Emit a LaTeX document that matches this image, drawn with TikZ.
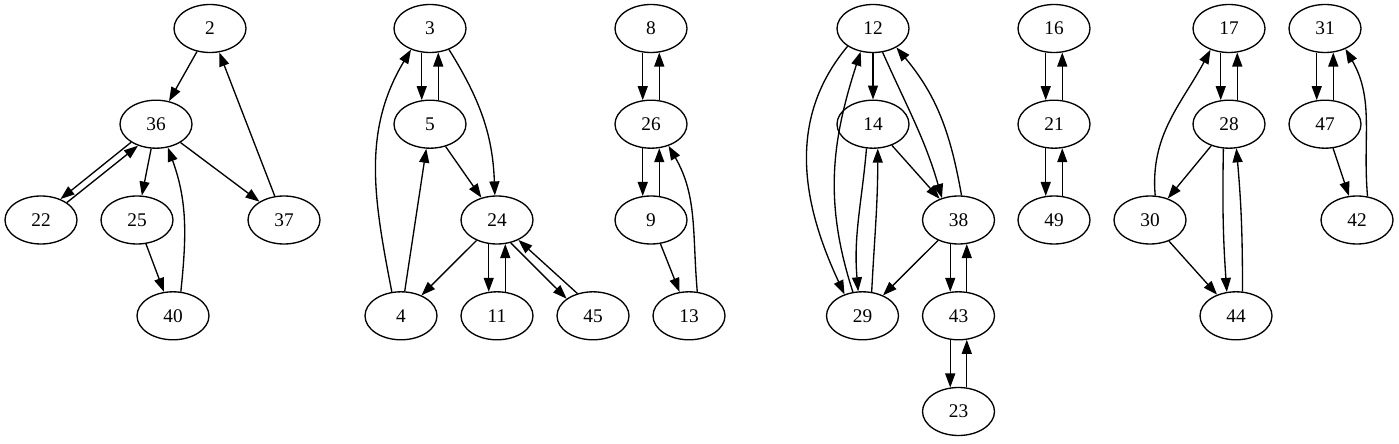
\documentclass[tikz,border=0pt]{standalone}
\usepackage{fontspec}
\setmainfont{Liberation Serif}
\usetikzlibrary{shapes.geometric,arrows.meta}
\begin{document}
\begin{tikzpicture}[x=0.75pt,y=0.75pt,
    vert/.style={ellipse,draw,line width=1pt,minimum width=54pt,minimum height=36pt,inner sep=0pt,font=\fontsize{14.5}{16}\selectfont},
    edge/.style={line width=1pt,-{Triangle[length=10.5pt,width=7.5pt]}}]
       \useasboundingbox (0,0) rectangle (1399,443);
       \node[vert] (n2) at (210,414.5) {2};
       \node[vert] (n36) at (156,318.8) {36};
       \node[vert] (n22) at (41,223) {22};
       \node[vert] (n25) at (137,223) {25};
       \node[vert] (n37) at (284,223) {37};
       \node[vert] (n40) at (173,127.2) {40};
       \node[vert] (n3) at (430,414.5) {3};
       \node[vert] (n5) at (430,318.8) {5};
       \node[vert] (n24) at (497,223) {24};
       \node[vert] (n4) at (401,127.2) {4};
       \node[vert] (n11) at (497,127.2) {11};
       \node[vert] (n45) at (593,127.2) {45};
       \node[vert] (n8) at (651,414.5) {8};
       \node[vert] (n26) at (651,318.8) {26};
       \node[vert] (n9) at (651,223) {9};
       \node[vert] (n13) at (689,127.2) {13};
       \node[vert] (n12) at (873,414.5) {12};
       \node[vert] (n14) at (873,318.8) {14};
       \node[vert] (n38) at (958.5,223) {38};
       \node[vert] (n29) at (862.5,127.2) {29};
       \node[vert] (n43) at (958.5,127.2) {43};
       \node[vert] (n23) at (958.5,31.5) {23};
       \node[vert] (n16) at (1054,414.5) {16};
       \node[vert] (n21) at (1054,318.8) {21};
       \node[vert] (n49) at (1054,223) {49};
       \node[vert] (n17) at (1229,414.5) {17};
       \node[vert] (n28) at (1229,318.8) {28};
       \node[vert] (n30) at (1150,223) {30};
       \node[vert] (n44) at (1236,127.2) {44};
       \node[vert] (n31) at (1325,414.5) {31};
       \node[vert] (n47) at (1325,318.8) {47};
       \node[vert] (n42) at (1357,223) {42};

       \draw[edge] (n2) -- (n36);
       \draw[edge] (n37) -- (n2);
       \draw[edge] (n36.216) -- (n22.47);
       \draw[edge] (n22.34) -- (n36.230);
       \draw[edge] (n36) -- (n25);
       \draw[edge] (n36) -- (n37);
       \draw[edge] (n25) -- (n40);
       \draw[edge] (n40.72) to[out=84,in=-70] (n36.-63);

       \draw[edge] (n3.251) -- (n5.109);
       \draw[edge] (n5.71) -- (n3.-71);
       \draw[edge] (n4.111) to[out=101,in=-121] (n3.-132);
       \draw[edge] (n4) -- (n5);
       \draw[edge] (n3.-48) to[out=-58,in=92] (n24.95);
       \draw[edge] (n5) -- (n24);
       \draw[edge] (n24) -- (n4);
       \draw[edge] (n24.251) -- (n11.109);
       \draw[edge] (n11.71) -- (n24.-71);
       \draw[edge] (n24.-59) -- (n45.147);
       \draw[edge] (n45.125) -- (n24.-43);

       \draw[edge] (n8.251) -- (n26.109);
       \draw[edge] (n26.71) -- (n8.-71);
       \draw[edge] (n26.251) -- (n9.109);
       \draw[edge] (n9.71) -- (n26.-71);
       \draw[edge] (n9) -- (n13);
       \draw[edge] (n13.71) to[out=95,in=-60] (n26.-51);

       \draw[edge] (n12) -- (n14);
       \draw[edge] (n12.-145) to[out=-130,in=115] (n29.130);
       \draw[edge] (n29.112) to[out=108,in=-108] (n12.-118);
       \draw[edge] (n14.-105) to[out=-95,in=95] (n29.100);
       \draw[edge] (n29.69) to[out=87,in=-90] (n14.-79);
       \draw[edge] (n14) -- (n38);
       \draw[edge] (n12.-68) to[out=-66,in=106] (n38.127);
       \draw[edge] (n38.83) to[out=100,in=-50] (n12.-39);
       \draw[edge] (n38) -- (n29);
       \draw[edge] (n38.251) -- (n43.109);
       \draw[edge] (n43.71) -- (n38.-71);
       \draw[edge] (n43.251) -- (n23.109);
       \draw[edge] (n23.71) -- (n43.-71);

       \draw[edge] (n16.251) -- (n21.109);
       \draw[edge] (n21.71) -- (n16.-71);
       \draw[edge] (n21.251) -- (n49.109);
       \draw[edge] (n49.71) -- (n21.-71);

       \draw[edge] (n30.78) to[out=95,in=-118] (n17.-131);
       \draw[edge] (n17.251) -- (n28.109);
       \draw[edge] (n28.71) -- (n17.-71);
       \draw[edge] (n28) -- (n30);
       \draw[edge] (n28.-103) to[out=-91,in=94] (n44.111);
       \draw[edge] (n44.75) to[out=90,in=-85] (n28.-73);
       \draw[edge] (n30) -- (n44);

       \draw[edge] (n31.251) -- (n47.109);
       \draw[edge] (n47.71) -- (n31.-71);
       \draw[edge] (n47) -- (n42);
       \draw[edge] (n42.66) to[out=95,in=-60] (n31.-45);
    \end{tikzpicture}
\end{document}
